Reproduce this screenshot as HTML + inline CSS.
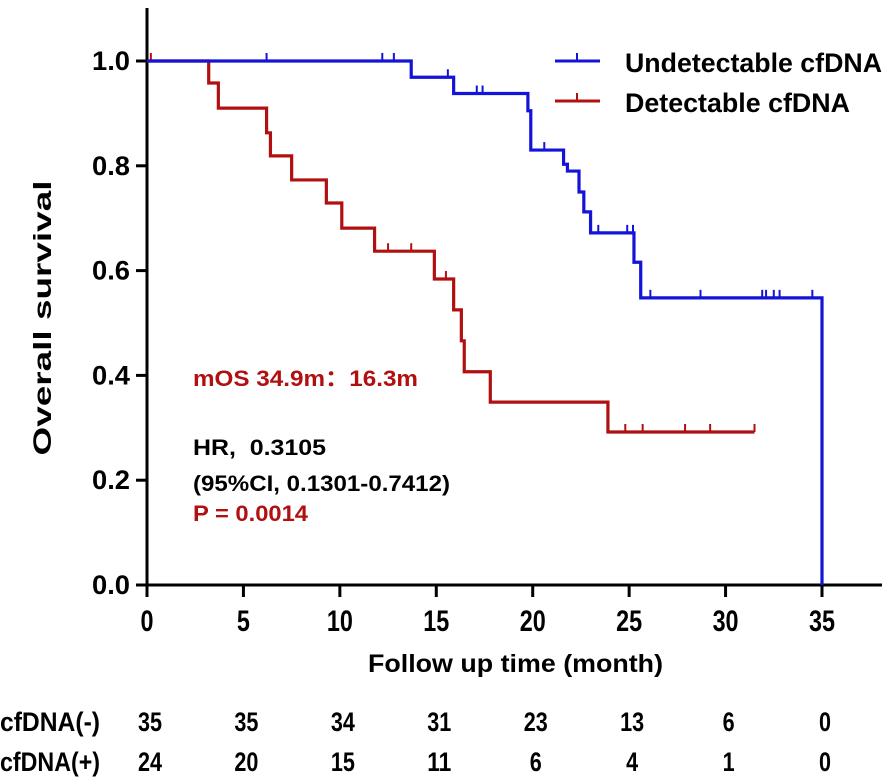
<!DOCTYPE html>
<html><head><meta charset="utf-8"><style>
body{margin:0;background:#fff}
svg text{font-family:"Liberation Sans",sans-serif;font-weight:bold}
</style></head><body>
<svg id="chart" width="886" height="779" viewBox="0 0 886 779" xmlns="http://www.w3.org/2000/svg">
<g id="axes"></g>
<g id="series"></g>
<text x="0" y="0" transform="translate(51,318) rotate(-90)" text-anchor="middle" font-size="25" textLength="275" lengthAdjust="spacingAndGlyphs">Overall survival</text>
<text x="368" y="672" font-size="25" textLength="295" lengthAdjust="spacingAndGlyphs">Follow up time (month)</text>
<g>
<line x1="555" y1="61" x2="600" y2="61" stroke="#1414d8" stroke-width="3"/><line x1="577" y1="61" x2="577" y2="53" stroke="#1414d8" stroke-width="2"/>
<text x="625" y="72" font-size="27" textLength="257" lengthAdjust="spacingAndGlyphs">Undetectable cfDNA</text>
<line x1="555" y1="101" x2="600" y2="101" stroke="#b01010" stroke-width="3"/><line x1="577" y1="101" x2="577" y2="93" stroke="#b01010" stroke-width="2"/>
<text x="625" y="112" font-size="27" textLength="225" lengthAdjust="spacingAndGlyphs">Detectable cfDNA</text>
</g>
<text x="193" y="386" font-size="22" fill="#b01010" textLength="225" lengthAdjust="spacingAndGlyphs">mOS 34.9m：16.3m</text>
<text x="193" y="455" font-size="22" textLength="133" lengthAdjust="spacingAndGlyphs">HR,&#160;&#160;0.3105</text>
<text x="193" y="491" font-size="22" textLength="257" lengthAdjust="spacingAndGlyphs">(95%CI, 0.1301-0.7412)</text>
<text x="193" y="521" font-size="22" fill="#b01010" textLength="115" lengthAdjust="spacingAndGlyphs">P = 0.0014</text>
<g id="risk"></g>
</svg>
<script>
const xTicks=[0,5,10,15,20,25,30,35];
const yTicks=[0,0.2,0.4,0.6,0.8,1.0];
const blueTimes=[0,13.7,15.9,19.75,19.9,21.6,21.8,22.4,22.65,23.0,25.25,25.6,35];
const blueSurv=[1,0.969,0.938,0.905,0.830,0.803,0.79,0.75,0.712,0.672,0.616,0.548,0];
const blueCensor=[6.2,12.2,12.8,15.6,17.1,17.4,20.6,23.4,24.9,25.2,26.1,28.7,31.9,32.1,32.5,32.8,34.5];
const redTimes=[0,3.2,3.7,6.2,6.4,7.5,9.3,10.1,11.8,14.9,15.9,16.3,16.45,17.8,23.9];
const redSurv=[1,0.958,0.910,0.863,0.819,0.773,0.729,0.681,0.637,0.584,0.525,0.466,0.407,0.349,0.292];
const redCensor=[0.2,12.5,13.7,15.5,24.8,25.7,27.9,29.2,31.5];
const redEnd=31.5;
const riskLabels=["cfDNA(-)","cfDNA(+)"];
const riskNeg=[35,35,34,31,23,13,6,0];
const riskPos=[24,20,15,11,6,4,1,0];
const NS="http://www.w3.org/2000/svg";
const X=t=>147+t*(675/35), Y=s=>585-s*524;
function mk(tag,attrs,parent){const e=document.createElementNS(NS,tag);for(const k in attrs)e.setAttribute(k,attrs[k]);parent.appendChild(e);return e;}
const ax=document.getElementById('axes');
let e=mk('line',{x1:147,y1:8,x2:147,y2:587,stroke:'#000','stroke-width':3},ax);


e=mk('line',{x1:145,y1:585,x2:882,y2:585,stroke:'#000','stroke-width':3},ax);


xTicks.forEach(t=>{mk('line',{x1:X(t),y1:585,x2:X(t),y2:597,stroke:'#000','stroke-width':3},ax);
 const s=String(t);
 const tx=mk('text',{x:X(t),y:631,'text-anchor':'middle','font-size':30,textLength:s.length*13,lengthAdjust:'spacingAndGlyphs'},ax);tx.textContent=s;
 
 });
yTicks.forEach(s=>{mk('line',{x1:136,y1:Y(s),x2:147,y2:Y(s),stroke:'#000','stroke-width':3},ax);
 const tx=mk('text',{x:130,y:Y(s)+9,'text-anchor':'end','font-size':27,textLength:38,lengthAdjust:'spacingAndGlyphs'},ax);tx.textContent=s.toFixed(1);
 
 });
const sg=document.getElementById('series');
function stepPath(times,surv,end){let d=`M${X(times[0])},${Y(surv[0])}`;for(let i=1;i<times.length;i++){d+=`H${X(times[i])}V${Y(surv[i])}`;}if(end!=null)d+=`H${X(end)}`;return d;}
function survAt(times,surv,t){let s=surv[0];for(let i=0;i<times.length;i++){if(times[i]<=t)s=surv[i];}return s;}
function draw(times,surv,cens,end,col,name){
 const p=mk('path',{d:stepPath(times,surv,end),fill:'none',stroke:col,'stroke-width':3.2},sg);
 
 
 cens.forEach(t=>{const s=survAt(times,surv,t);const c=mk('line',{x1:X(t),y1:Y(s),x2:X(t),y2:Y(s)-8,stroke:col,'stroke-width':2},sg);
  
  });
}
draw(redTimes,redSurv,redCensor,redEnd,'#b01010','detectable');
draw(blueTimes,blueSurv,blueCensor,null,'#1414d8','undetectable');
const rg=document.getElementById('risk');
[riskNeg,riskPos].forEach((row,r)=>{const yy=731+r*40;
 const l=mk('text',{x:0,y:yy,'font-size':27,textLength:100,lengthAdjust:'spacingAndGlyphs'},rg);l.textContent=riskLabels[r];
 
 
 row.forEach((v,i)=>{const s=String(v);const tx=mk('text',{x:X(xTicks[i])+3,y:yy,'text-anchor':'middle','font-size':27,textLength:s.length*12,lengthAdjust:'spacingAndGlyphs'},rg);tx.textContent=s;
  
  });});
</script>
</body></html>
